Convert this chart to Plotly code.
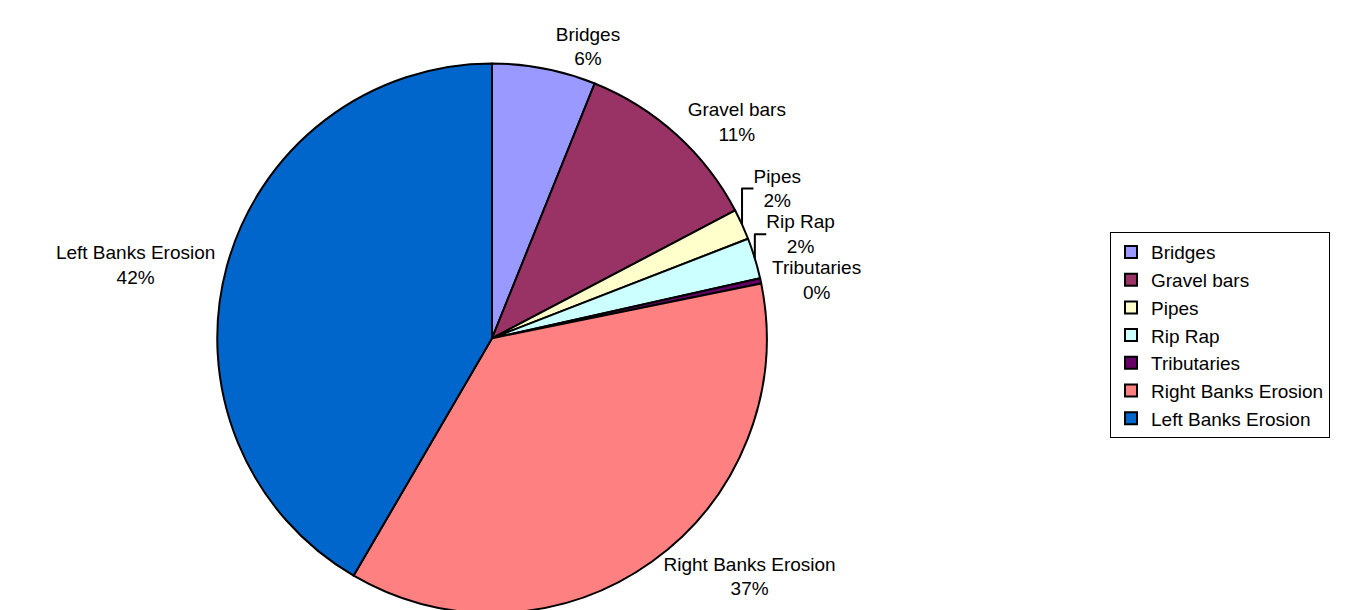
import plotly.graph_objects as go

categories = ["Bridges", "Gravel bars", "Pipes", "Rip Rap", "Tributaries",
              "Right Banks Erosion", "Left Banks Erosion"]
values = [6.1, 11.2, 1.8, 2.4, 0.3, 36.6, 41.6]
colors = ["#9999FF", "#993366", "#FFFFCC", "#CCFFFF", "#660066",
          "#FF8080", "#0066CC"]

FONT = "Liberation Sans, Arial, sans-serif"

cx = 484
fig = go.Figure(go.Pie(
    labels=categories,
    values=values,
    sort=False,
    direction="clockwise",
    rotation=0,
    marker=dict(colors=colors, line=dict(color="black", width=2)),
    textposition="outside",
    texttemplate="%{label}<br>%{percent:.0%}",
    outsidetextfont=dict(family=FONT, size=19, color="black"),
    domain=dict(x=[(cx - 277) / 1345, (cx + 277) / 1345], y=[0, 554 / 610]),
))

fig.update_layout(
    width=1345, height=610,
    margin=dict(l=0, r=0, t=0, b=0),
    paper_bgcolor="white",
    plot_bgcolor="white",
    font=dict(family=FONT, size=19, color="black"),
    showlegend=True,
    legend=dict(
        x=1102 / 1345, y=1 - 226 / 610, xanchor="left", yanchor="top",
        bordercolor="black", borderwidth=1, bgcolor="white",
        font=dict(size=19, family=FONT, color="black"),
        traceorder="normal", itemwidth=30,
    ),
)

fig.write_html("out.html")
